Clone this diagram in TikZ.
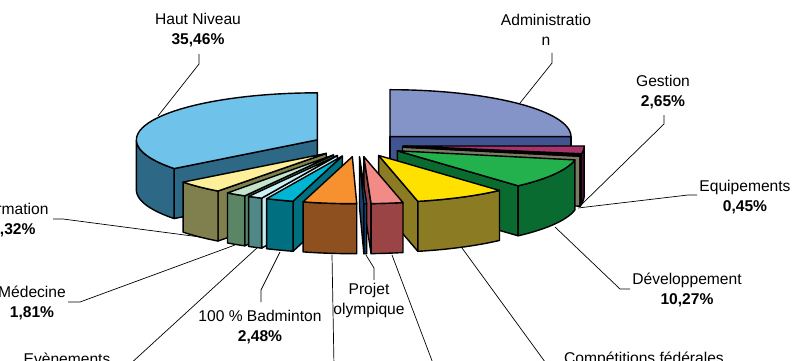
\documentclass[tikz,border=0pt]{standalone}
\usepackage{fontspec}
\setmainfont{Liberation Sans}
\definecolor{admTop}{HTML}{8494C9}\definecolor{admSide}{HTML}{3F5490}
\definecolor{gesTop}{HTML}{A8346C}\definecolor{gesSide}{HTML}{6A1E4A}
\definecolor{eqTop}{HTML}{9C9C86}\definecolor{eqSide}{HTML}{7C7C66}
\definecolor{devTop}{HTML}{22B14C}\definecolor{devSide}{HTML}{0A6B30}
\definecolor{comTop}{HTML}{FFE100}\definecolor{comSide}{HTML}{8B7B23}
\definecolor{pnkTop}{HTML}{F28B86}\definecolor{pnkSide}{HTML}{9A4446}
\definecolor{poTop}{HTML}{1F5F9E}\definecolor{poSide}{HTML}{17416E}
\definecolor{brnTop}{HTML}{F7902F}\definecolor{brnSide}{HTML}{8F5020}
\definecolor{badTop}{HTML}{00B5D2}\definecolor{badSide}{HTML}{006F7F}
\definecolor{evnTop}{HTML}{CBEFF2}\definecolor{evnSide}{HTML}{508887}\definecolor{evnRad}{HTML}{C5ECEF}
\definecolor{medTop}{HTML}{C3E3CB}\definecolor{medSide}{HTML}{5B8666}
\definecolor{forTop}{HTML}{FEF09A}\definecolor{forSide}{HTML}{807F4E}
\definecolor{hnTop}{HTML}{6FC3EB}\definecolor{hnSide}{HTML}{2E6887}
\tikzset{
  slicefill/.style={draw=black, line width=1.4pt, line join=round},
  leader/.style={draw=black, line width=0.7pt},
  lbl/.style={align=center, inner sep=0pt, font=\fontsize{15.6}{20}\selectfont},
}
% #1 start angle, #2 end angle (clockwise from back), #3 top, #4 wall, #5 radial face
\newcommand\pieslice[5]{%
  \pgfmathsetmacro\slS{#1}%
  \pgfmathsetmacro\slE{#2}%
  \pgfmathsetmacro\slM{(#1+#2)/2}%
  \pgfmathsetmacro\slAX{358+0.25*181*sin(\slM)}%
  \pgfmathsetmacro\slAY{145-0.25*47*cos(\slM)}%
  \pgfmathsetmacro\slSX{\slAX+181*sin(\slS)}%
  \pgfmathsetmacro\slSY{\slAY-47*cos(\slS)}%
  \pgfmathsetmacro\slEX{\slAX+181*sin(\slE)}%
  \pgfmathsetmacro\slEY{\slAY-47*cos(\slE)}%
  \pgfmathparse{sin(\slS)+0.01<0 ? 1 : 0}%
  \ifdim\pgfmathresult pt>0.5pt
    \filldraw[slicefill, fill=#5] (\slAX,\slAY) -- (\slSX,\slSY) -- (\slSX,\slSY+50) -- (\slAX,\slAY+50) -- cycle;
  \fi
  \pgfmathparse{sin(\slE)-0.01>0 ? 1 : 0}%
  \ifdim\pgfmathresult pt>0.5pt
    \filldraw[slicefill, fill=#5] (\slAX,\slAY) -- (\slEX,\slEY) -- (\slEX,\slEY+50) -- (\slAX,\slAY+50) -- cycle;
  \fi
  \pgfmathsetmacro\slWa{max(\slS,90)}%
  \pgfmathsetmacro\slWb{min(\slE,270)}%
  \pgfmathparse{\slWb-\slWa>0.01 ? 1 : 0}%
  \ifdim\pgfmathresult pt>0.5pt
    \filldraw[slicefill, fill=#4] plot[domain=\slWa:\slWb, samples=40] ({\slAX+181*sin(\x)},{\slAY-47*cos(\x)})
      -- plot[domain=\slWb:\slWa, samples=40] ({\slAX+181*sin(\x)},{\slAY+50-47*cos(\x)}) -- cycle;
  \fi
  \filldraw[slicefill, fill=#3] (\slAX,\slAY) -- plot[domain=\slS:\slE, samples=40] ({\slAX+181*sin(\x)},{\slAY-47*cos(\x)}) -- cycle;
}
\begin{document}
\begin{tikzpicture}[x=1pt, y=-1pt]
\useasboundingbox (0,0) rectangle (793,361);
\clip (0,0) rectangle (793,361);
% slices, back to front
\pieslice{0}{90}{admTop}{admSide}{admSide}
\pieslice{232.3}{360}{hnTop}{hnSide}{hnSide}
\pieslice{90}{99.54}{gesTop}{gesSide}{gesSide}
\pieslice{99.54}{101.16}{eqTop}{eqSide}{eqSide}
\pieslice{101.16}{138.13}{devTop}{devSide}{devSide}
\pieslice{216.75}{232.3}{forTop}{forSide}{forSide}
\pieslice{209.4}{215.9}{medTop}{medSide}{medSide}
\pieslice{138.13}{167.5}{comTop}{comSide}{comSide}
\pieslice{204.73}{209.4}{evnTop}{evnSide}{evnRad}
\pieslice{195.8}{204.73}{badTop}{badSide}{badSide}
\pieslice{167.5}{177.7}{pnkTop}{pnkSide}{pnkSide}
\pieslice{178.6}{195.8}{brnTop}{brnSide}{brnSide}
\pieslice{177.7}{178.6}{poTop}{poSide}{poSide}
% labels
\node[lbl] (hn) at (198,30.5) {Haut Niveau\\\textbf{35,46\%}};
\node[lbl] (adm) at (546,29.5) {Administratio\\n};
\node[lbl] (ges) at (663,92) {Gestion\\\textbf{2,65\%}};
\node[lbl] (eq) at (745,197.5) {Equipements\\\textbf{0,45\%}};
\node[lbl] (dev) at (687,289.5) {Développement\\\textbf{10,27\%}};
\node[lbl] (com) at (644,359.5) {Compétitions fédérales};
\node[lbl] (po) at (369,300.5) {Projet\\olympique};
\node[lbl] (bad) at (260,327.5) {100 \% Badminton\\\textbf{2,48\%}};
\node[lbl] (evn) at (67,358.7) {Evènements};
\node[lbl] (med) at (32,303) {Médecine\\\textbf{1,81\%}};
\node[lbl] (for) at (13.4,220) {Formation\\\textbf{4,32\%}};
% leader points
\coordinate (hnA) at (199,54); \coordinate (hnB) at (199,64); \coordinate (hnE) at (158,116);
\coordinate (admA) at (552,53); \coordinate (admB) at (552,63); \coordinate (admE) at (520,103);
\coordinate (gesA) at (664,115); \coordinate (gesB) at (664,124); \coordinate (gesE) at (580,206);
\coordinate (eqA) at (697,195); \coordinate (eqB) at (688,195); \coordinate (eqE) at (578,208);
\coordinate (devA) at (630,289); \coordinate (devB) at (620,289); \coordinate (devE) at (555,227);
\coordinate (comA) at (548,366); \coordinate (comE) at (462,248);
\coordinate (pnkA) at (434,366); \coordinate (pnkE) at (392,255);
\coordinate (poA) at (374,280); \coordinate (poB) at (374,268); \coordinate (poE) at (366,255);
\coordinate (brnA) at (334,366); \coordinate (brnE) at (332,255);
\coordinate (badA) at (261,302); \coordinate (badB) at (261,290); \coordinate (badE) at (280,252);
\coordinate (evnA) at (128,366); \coordinate (evnE) at (258,247);
\coordinate (medA) at (68,302); \coordinate (medB) at (80,302); \coordinate (medE) at (235,245);
\coordinate (forA) at (53,219); \coordinate (forB) at (63,219); \coordinate (forE) at (200,237);
\draw[leader] (hnA) -- (hnB) -- (hnE);
\draw[leader] (admA) -- (admB) -- (admE);
\draw[leader] (gesA) -- (gesB) -- (gesE);
\draw[leader] (eqA) -- (eqB) -- (eqE);
\draw[leader] (devA) -- (devB) -- (devE);
\draw[leader] (comA) -- (comE);
\draw[leader] (pnkA) -- (pnkE);
\draw[leader] (poA) -- (poB) -- (poE);
\draw[leader] (brnA) -- (brnE);
\draw[leader] (badA) -- (badB) -- (badE);
\draw[leader] (evnA) -- (evnE);
\draw[leader] (medA) -- (medB) -- (medE);
\draw[leader] (forA) -- (forB) -- (forE);
\end{tikzpicture}
\end{document}
